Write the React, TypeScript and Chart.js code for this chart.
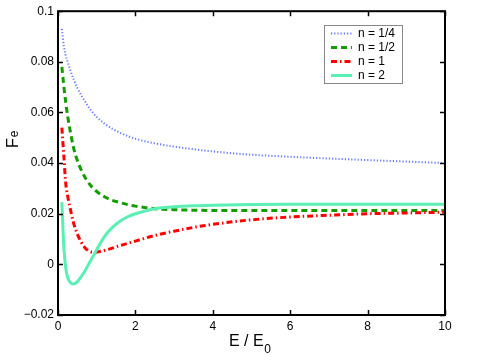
import React, { useEffect, useRef } from "react";
import { Chart, registerables } from "chart.js";

Chart.register(...registerables);

const xValues = [0.1, 0.15, 0.2, 0.25, 0.3, 0.4, 0.5, 0.6, 0.7, 0.8, 0.9, 1, 1.2, 1.4, 1.6, 1.8, 2, 2.5, 3, 3.5, 4, 5, 6, 7, 8, 9, 10];
const seriesQuarter = [0.093, 0.0862, 0.0825, 0.08, 0.0775, 0.0733, 0.0697, 0.0668, 0.0643, 0.0619, 0.0599, 0.0582, 0.0556, 0.0536, 0.052, 0.0507, 0.0496, 0.0478, 0.0465, 0.0455, 0.0446, 0.0433, 0.0425, 0.0418, 0.0412, 0.0406, 0.04];
const seriesHalf = [0.078, 0.0705, 0.064, 0.0585, 0.054, 0.0462, 0.041, 0.0373, 0.0343, 0.032, 0.0302, 0.0288, 0.0267, 0.0253, 0.0244, 0.0236, 0.023, 0.022, 0.0216, 0.0214, 0.0213, 0.0213, 0.0213, 0.0213, 0.0213, 0.0213, 0.0213];
const seriesOne = [0.054, 0.043, 0.032, 0.027, 0.0232, 0.0165, 0.012, 0.0088, 0.0065, 0.0053, 0.0048, 0.0049, 0.0055, 0.0064, 0.0074, 0.0083, 0.0092, 0.0114, 0.0131, 0.0146, 0.0158, 0.0176, 0.0187, 0.0194, 0.02, 0.0203, 0.0206];
const seriesTwo = [0.0246, 0.007, -0.0015, -0.0052, -0.0068, -0.0078, -0.0068, -0.0048, -0.0025, 0.0003, 0.003, 0.0058, 0.011, 0.0145, 0.017, 0.0188, 0.02, 0.022, 0.0228, 0.0232, 0.0234, 0.0236, 0.0237, 0.0237, 0.0237, 0.0237, 0.0237];
const seriesLabels = ["n = 1/4", "n = 1/2", "n = 1", "n = 2"];
const xTickValues = [0, 2, 4, 6, 8, 10];
const xTickLabels = ["0", "2", "4", "6", "8", "10"];
const yTickValues = [-0.02, 0, 0.02, 0.04, 0.06, 0.08, 0.1];
const yTickLabels = ["\u22120.02", "0", "0.02", "0.04", "0.06", "0.08", "0.1"];

const FONT = "'Liberation Sans', Arial, Helvetica, sans-serif";

export default function App() {
  const ref = useRef<HTMLCanvasElement | null>(null);
  useEffect(() => {
    document.body.style.margin = "0";
    const canvas = ref.current!;
    const styles = [
      { color: "rgb(100,120,255)", width: 2, dash: [1.2, 2] },
      { color: "rgb(20,155,0)", width: 3, dash: [6, 4] },
      { color: "rgb(255,0,0)", width: 3, dash: [6, 3, 1.5, 3] },
      { color: "rgb(90,240,180)", width: 3, dash: [] as number[] },
    ];
    const all = [seriesQuarter, seriesHalf, seriesOne, seriesTwo];
    const datasets = all.map((s, i) => ({
      label: seriesLabels[i],
      data: s.map((y, j) => ({ x: xValues[j], y })),
      borderColor: styles[i].color,
      backgroundColor: styles[i].color,
      borderWidth: styles[i].width,
      borderDash: styles[i].dash,
      pointRadius: 0,
      fill: false,
      cubicInterpolationMode: "monotone" as const,
      order: 4 - i,
    }));

    const framePlugin = {
      id: "frame",
      afterDraw(chart: any) {
        const { ctx, chartArea: a, scales } = chart;
        ctx.save();
        ctx.strokeStyle = "#000";
        ctx.lineWidth = 1.5;
        ctx.setLineDash([]);
        const tl = 5;
        ctx.beginPath();
        xTickValues.forEach((v) => {
          const px = Math.round(scales.x.getPixelForValue(v)) + 0.5;
          ctx.moveTo(px, a.bottom);
          ctx.lineTo(px, a.bottom - tl);
          ctx.moveTo(px, a.top);
          ctx.lineTo(px, a.top + tl);
        });
        yTickValues.forEach((v) => {
          const py = Math.round(scales.y.getPixelForValue(v)) + 0.5;
          ctx.moveTo(a.left, py);
          ctx.lineTo(a.left + tl, py);
          ctx.moveTo(a.right, py);
          ctx.lineTo(a.right - tl, py);
        });
        ctx.stroke();
        ctx.lineWidth = 2;
        ctx.strokeRect(a.left, a.top, a.right - a.left, a.bottom - a.top);

        // legend
        const lx = 324, ly = 25, lw = 78, lh = 58;
        ctx.fillStyle = "#fff";
        ctx.fillRect(lx, ly, lw, lh);
        ctx.strokeStyle = "#888";
        ctx.lineWidth = 1;
        ctx.strokeRect(lx + 0.5, ly + 0.5, lw, lh);
        ctx.font = `12px ${FONT}`;
        ctx.textBaseline = "middle";
        ctx.textAlign = "left";
        seriesLabels.forEach((lab, i) => {
          const y = ly + 8.5 + i * 14;
          ctx.strokeStyle = styles[i].color;
          ctx.lineWidth = styles[i].width;
          ctx.setLineDash(styles[i].dash);
          ctx.beginPath();
          ctx.moveTo(331, y);
          ctx.lineTo(352, y);
          ctx.stroke();
          ctx.setLineDash([]);
          ctx.fillStyle = "#000";
          ctx.fillText(lab, 358, y);
        });

        // axis titles
        ctx.fillStyle = "#000";
        ctx.textBaseline = "alphabetic";
        ctx.font = `16px ${FONT}`;
        const t = "E / E";
        ctx.fillText(t, 229, 346);
        const tw = ctx.measureText(t).width;
        ctx.font = `12px ${FONT}`;
        ctx.fillText("0", 229 + tw + 0.5, 353);

        ctx.save();
        ctx.translate(18, 148);
        ctx.rotate(-Math.PI / 2);
        ctx.font = `16px ${FONT}`;
        ctx.fillText("F", 0, 0);
        const fw = ctx.measureText("F").width;
        ctx.font = `12px ${FONT}`;
        ctx.fillText("e", fw + 1, 0);
        ctx.restore();
        ctx.restore();
      },
    };

    const chart = new Chart(canvas, {
      type: "line",
      data: { datasets },
      options: {
        animation: false,
        responsive: false,
        maintainAspectRatio: false,
        layout: { padding: { top: 10, right: 51, left: 0, bottom: 0 } },
        plugins: { legend: { display: false }, tooltip: { enabled: false } },
        scales: {
          x: {
            type: "linear",
            min: 0,
            max: 10,
            afterFit: (s: any) => { s.height = 42; },
            afterBuildTicks: (s: any) => { s.ticks = xTickValues.map((v) => ({ value: v })); },
            grid: { display: false, drawTicks: false },
            border: { display: false },
            ticks: {
              padding: 4,
              color: "#000",
              font: { family: FONT, size: 12 },
              callback: (v: any) => { const i = xTickValues.indexOf(Number(v)); return i >= 0 ? xTickLabels[i] : ""; },
              maxRotation: 0,
            },
          },
          y: {
            type: "linear",
            min: -0.02,
            max: 0.1,
            afterFit: (s: any) => { s.width = 58; },
            afterBuildTicks: (s: any) => { s.ticks = yTickValues.map((v) => ({ value: v })); },
            grid: { display: false, drawTicks: false },
            border: { display: false },
            ticks: {
              padding: 4,
              color: "#000",
              font: { family: FONT, size: 12 },
              callback: (v: any) => {
                const i = yTickValues.findIndex((t) => Math.abs(t - Number(v)) < 1e-9);
                return i >= 0 ? yTickLabels[i] : "";
              },
            },
          },
        },
      },
      plugins: [framePlugin],
    });
    return () => chart.destroy();
  }, []);
  return (
    <div style={{ width: 496, height: 357, background: "#fff" }}>
      <canvas ref={ref} width={496} height={357} style={{ display: "block", width: 496, height: 357 }} />
    </div>
  );
}
